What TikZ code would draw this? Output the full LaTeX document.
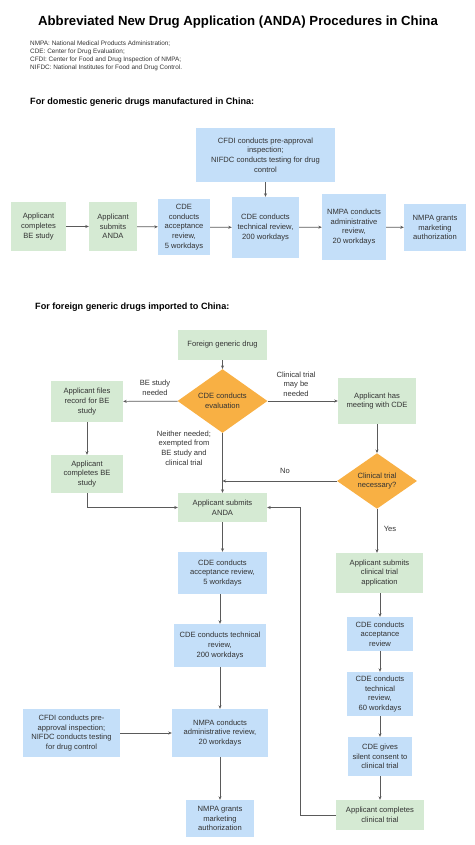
\documentclass[tikz,border=0pt]{standalone}
\usepackage{fontspec}
\setmainfont{Liberation Sans}
\usetikzlibrary{shapes.geometric,arrows.meta}

\definecolor{boxgreen}{RGB}{213,234,211}
\definecolor{boxblue}{RGB}{196,223,249}
\definecolor{boxorange}{RGB}{248,176,68}
\definecolor{inkgray}{RGB}{51,51,51}
\definecolor{linegray}{RGB}{90,90,90}

\tikzset{
  base/.style={inner sep=1pt, align=center, text=inkgray,
    font=\fontsize{7.6}{9.6}\selectfont},
  greenbox/.style={base, fill=boxgreen, rectangle},
  bluebox/.style={base, fill=boxblue, rectangle},
  decision/.style={base, fill=boxorange, diamond, inner sep=0pt},
  flow/.style={draw=linegray, line width=0.7pt,
    -{Stealth[length=3.5pt,width=3pt]}},
  lbl/.style={base, fill=none}
}

\begin{document}
\begin{tikzpicture}[x=1pt, y=-1pt]
      \useasboundingbox (0,0) rectangle (474,845);
      % Title and notes
      \node (title) at (238,22) {\fontsize{13.2}{16}\selectfont\bfseries
        Abbreviated New Drug Application (ANDA) Procedures in China};
      \node[anchor=north west, align=left, inner sep=0pt, text=inkgray,
        font=\fontsize{6.4}{7.9}\selectfont] (notes) at (30,41)
        {NMPA: National Medical Products Administration;\\
         CDE: Center for Drug Evaluation;\\
         CFDI: Center for Food and Drug Inspection of NMPA;\\
         NIFDC: National Institutes for Food and Drug Control.};
      \node[anchor=west, inner sep=0pt, font=\fontsize{9.1}{11}\selectfont\bfseries]
        (headA) at (30,102) {For domestic generic drugs manufactured in China:};
      \node[anchor=west, inner sep=0pt, font=\fontsize{9.1}{11}\selectfont\bfseries]
        (headB) at (35,307) {For foreign generic drugs imported to China:};

      % Define nodes (domestic)
      \node[greenbox, minimum width=55, minimum height=49] (dBE) at (38.5,226.5)
        {Applicant\\completes\\BE study};
      \node[greenbox, minimum width=48, minimum height=49] (dAnda) at (113,226.5)
        {Applicant\\submits\\ANDA};
      \node[bluebox, minimum width=52, minimum height=56] (dAcc) at (184,227)
        {CDE\\conducts\\acceptance\\review,\\5 workdays};
      \node[bluebox, minimum width=67, minimum height=61] (dTech) at (265.5,227.5)
        {CDE conducts\\technical review,\\200 workdays};
      \node[bluebox, minimum width=64, minimum height=66] (dAdmin) at (354,227)
        {NMPA conducts\\administrative\\review,\\20 workdays};
      \node[bluebox, minimum width=62, minimum height=47] (dGrant) at (435,227.5)
        {NMPA grants\\marketing\\authorization};
      \node[bluebox, minimum width=139, minimum height=54] (dCfdi) at (265.5,155)
        {CFDI conducts pre-approval\\inspection;\\NIFDC conducts testing for drug\\control};

      % Connect nodes (domestic)
      \draw[flow] (dBE) -- (dAnda);
      \draw[flow] (dAnda) -- (dAcc);
      \draw[flow] (dAcc) -- (dTech);
      \draw[flow] (dTech) -- (dAdmin);
      \draw[flow] (dAdmin) -- (dGrant);
      \draw[flow] (dCfdi) -- (dTech);

      % Define nodes (foreign)
      \node[greenbox, minimum width=89, minimum height=30] (fDrug) at (222.5,345)
        {Foreign generic drug};
      \node[decision, minimum width=90, minimum height=49] (fEval) at (222.5,401)
        {CDE conducts\\evaluation};
      \node[greenbox, minimum width=72, minimum height=41] (fFile) at (87,401.5)
        {Applicant files\\record for BE\\study};
      \node[greenbox, minimum width=78, minimum height=46] (fMeet) at (377,401)
        {Applicant has\\meeting with CDE};
      \node[greenbox, minimum width=72, minimum height=38] (fBEdone) at (87,474)
        {Applicant\\completes BE\\study};
      \node[decision, minimum width=80, minimum height=55] (fNec) at (377,481)
        {Clinical trial\\necessary?};
      \node[greenbox, minimum width=89, minimum height=29] (fAnda) at (222.5,507.5)
        {Applicant submits\\ANDA};
      \node[bluebox, minimum width=89, minimum height=42] (fAcc) at (222.5,573)
        {CDE conducts\\acceptance review,\\5 workdays};
      \node[bluebox, minimum width=92, minimum height=43] (fTech) at (220,645.5)
        {CDE conducts technical\\review,\\200 workdays};
      \node[bluebox, minimum width=97, minimum height=48] (fCfdi) at (71.5,733)
        {CFDI conducts pre-\\approval inspection;\\NIFDC conducts testing\\for drug control};
      \node[bluebox, minimum width=96, minimum height=48] (fAdmin) at (220,733)
        {NMPA conducts\\administrative review,\\20 workdays};
      \node[bluebox, minimum width=68, minimum height=37] (fGrant) at (220,818.5)
        {NMPA grants\\marketing\\authorization};
      \node[greenbox, minimum width=87, minimum height=40] (fCtApp) at (379.5,573)
        {Applicant submits\\clinical trial\\application};
      \node[bluebox, minimum width=66, minimum height=34] (fCtAcc) at (380,634)
        {CDE conducts\\acceptance\\review};
      \node[bluebox, minimum width=66, minimum height=44] (fCtTech) at (380,694)
        {CDE conducts\\technical\\review,\\60 workdays};
      \node[bluebox, minimum width=64, minimum height=39] (fConsent) at (380,756.5)
        {CDE gives\\silent consent to\\clinical trial};
      \node[greenbox, minimum width=88, minimum height=30] (fCtDone) at (380,815)
        {Applicant completes\\clinical trial};

      % Edge labels
      \node[lbl] (lBE) at (155,388) {BE study\\needed};
      \node[lbl] (lCT) at (296,384) {Clinical trial\\may be\\needed};
      \node[lbl] (lNone) at (184,448)
        {Neither needed;\\exempted from\\BE study and\\clinical trial};
      \node[lbl] (lNo) at (285,471) {No};
      \node[lbl] (lYes) at (390,529) {Yes};

      % Connect nodes (foreign)
      \draw[flow] (fDrug) -- (fEval);
      \draw[flow] (fEval) -- (fFile);
      \draw[flow] (fEval) -- (fMeet);
      \draw[flow] (fEval) -- (fAnda);
      \draw[flow] (fFile) -- (fBEdone);
      \draw[flow] (fBEdone.south) |- (fAnda.west);
      \draw[flow] (fMeet) -- (fNec);
      \draw[flow] (fNec.west) -- (fNec.west -| fEval.south);
      \draw[flow] (fNec.south) -- (fNec.south |- fCtApp.north);
      \draw[flow] (fAnda) -- (fAcc);
      \draw[flow] (fAcc.south -| fTech.north) -- (fTech.north);
      \draw[flow] (fTech) -- (fAdmin);
      \draw[flow] (fCfdi) -- (fAdmin);
      \draw[flow] (fAdmin) -- (fGrant);
      \draw[flow] (fCtApp.south -| fCtAcc.north) -- (fCtAcc.north);
      \draw[flow] (fCtAcc) -- (fCtTech);
      \draw[flow] (fCtTech) -- (fConsent);
      \draw[flow] (fConsent) -- (fCtDone);
      \draw[flow] (fCtDone.west) -- ++(-35,0) |- (fAnda.east);
    \end{tikzpicture}
\end{document}
